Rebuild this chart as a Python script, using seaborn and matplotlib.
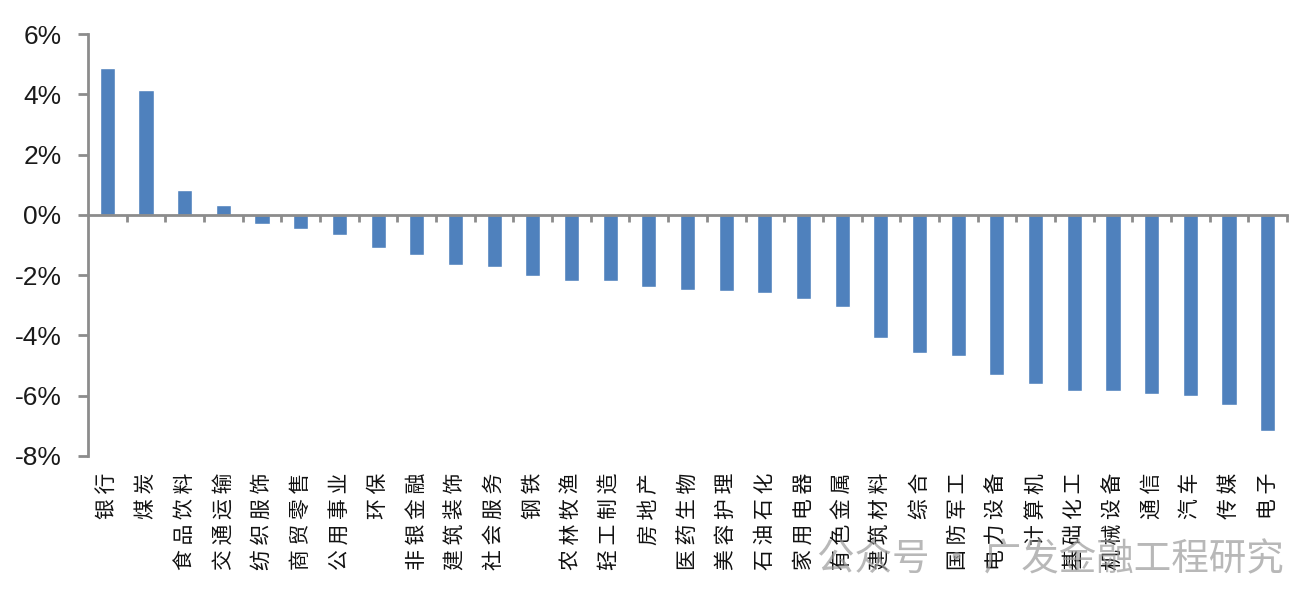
import numpy as np
import pandas as pd
import seaborn as sns
import matplotlib.pyplot as plt
from matplotlib.ticker import FixedLocator, FuncFormatter

industries = ['银行', '煤炭', '食品饮料', '交通运输', '纺织服饰', '商贸零售', '公用事业', '环保',
              '非银金融', '建筑装饰', '社会服务', '钢铁', '农林牧渔', '轻工制造', '房地产', '医药生物',
              '美容护理', '石油石化', '家用电器', '有色金属', '建筑材料', '综合', '国防军工', '电力设备',
              '计算机', '基础化工', '机械设备', '通信', '汽车', '传媒', '电子']
returns = [4.88, 4.13, 0.84, 0.32, -0.29, -0.46, -0.68, -1.10,
           -1.32, -1.68, -1.73, -2.02, -2.20, -2.20, -2.38, -2.49,
           -2.54, -2.60, -2.78, -3.06, -4.09, -4.57, -4.67, -5.30,
           -5.60, -5.83, -5.83, -5.94, -6.01, -6.30, -7.16]
yticks = [6, 4, 2, 0, -2, -4, -6, -8]

df = pd.DataFrame({'industry': industries, 'ret': returns})

sns.set_style('white')
plt.rcParams['font.family'] = ['Liberation Sans', 'Noto Sans CJK SC', 'DejaVu Sans']

fig = plt.figure(figsize=(12.99, 6.03), dpi=100)
ax = fig.add_axes([0.0677, 0.2438, 0.9231, 0.6998])

sns.barplot(data=df, x='industry', y='ret', color='#4F81BD', saturation=1,
            width=0.39, ax=ax)

grey = '#8C8C8C'
ax.set_xlim(-0.5, len(industries) - 0.5)
ax.set_ylim(-8, 6)
ax.set_xlabel('')
ax.set_ylabel('')

# y axis
ax.set_yticks(yticks)
ax.yaxis.set_major_formatter(FuncFormatter(lambda v, p: f'{v:.0f}%'))
ax.tick_params(axis='y', direction='out', length=7, width=2, color=grey,
               labelsize=19, labelcolor='#1a1a1a', pad=12, left=True)

# x axis sits on zero, ticks between categories
for s in ['top', 'right']:
    ax.spines[s].set_visible(False)
for s in ['left', 'bottom']:
    ax.spines[s].set_color(grey)
    ax.spines[s].set_linewidth(2)
ax.spines['bottom'].set_position(('data', 0))
ax.set_xticks([])
ax.xaxis.set_minor_locator(FixedLocator(np.arange(0.5, len(industries), 1)))
ax.tick_params(axis='x', which='minor', direction='out', length=5, width=2,
               color=grey, bottom=True)

# category labels along the bottom of the plot area (spaced characters)
sec = ax.secondary_xaxis('bottom')
sec.spines['bottom'].set_visible(False)
sec.set_xticks(range(len(industries)))
sec.set_xticklabels([' '.join(n) for n in industries], rotation=90, fontsize=15,
                    family=['Noto Sans CJK SC', 'DejaVu Sans'], color='#111111')
sec.tick_params(axis='x', length=0, pad=12)

# watermark
fig.text(0.988, 0.072, '公众号 · 广发金融工程研究', ha='right', va='center',
         fontsize=27, color='#9a9a9a', alpha=0.7,
         family=['Noto Sans CJK SC', 'DejaVu Sans'])

fig.savefig('out.png', dpi=100)
